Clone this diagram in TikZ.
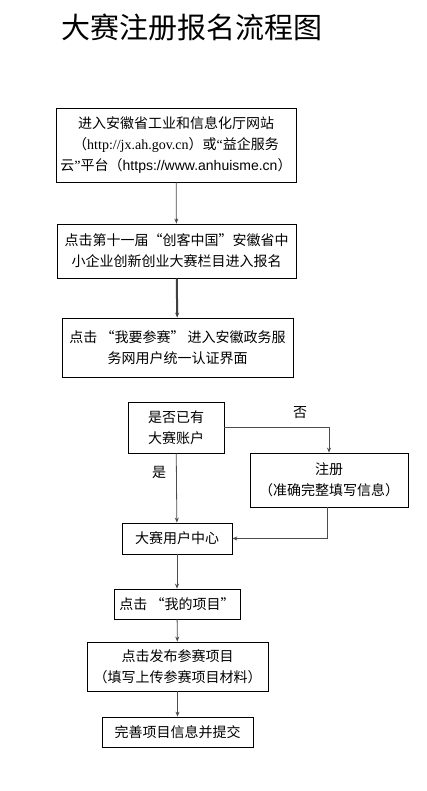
\documentclass[tikz,border=0pt]{standalone}
\usepackage{fontspec}
\setmainfont{Noto Sans CJK SC}
\newfontfamily\urlserif{Liberation Serif}
\newfontfamily\urlsans{Liberation Sans}
\usetikzlibrary{arrows.meta}

\tikzset{
  stepbox/.style={draw, line width=0.8pt, align=center, inner sep=0pt, font=\fontsize{14}{21}\selectfont},
  flow/.style={draw=black!70, line width=0.8pt, -{Stealth[length=5pt,width=4pt]}},
  tag/.style={font=\fontsize{14}{16}\selectfont}
}

\begin{document}
\begin{tikzpicture}[x=1pt,y=-1pt]
	\useasboundingbox (0,0) rectangle (427,791);
	
	% Title
	\node[font=\fontsize{29}{31}\selectfont, anchor=west] (title) at (58,27) {大赛注册报名流程图};
	
	% Step 1: website
	\node[stepbox, minimum width=240pt, minimum height=74pt] (s1) at (176,145)
		{进入安徽省工业和信息化厅网站\\（{\urlserif http://jx.ah.gov.cn}）或{\urlserif “}益企服务\\云{\urlserif ”}平台（{\urlsans https://www.anhuisme.cn}）};
	
	% Step 2: column
	\node[stepbox, minimum width=239pt, minimum height=54pt] (s2) at (176.5,251)
		{点击第十一届“创客中国”安徽省中\\小企业创新创业大赛栏目进入报名};
	
	% Step 3: login
	\node[stepbox, minimum width=231pt, minimum height=59pt] (s3) at (177.5,347.5)
		{点击 “我要参赛” 进入安徽政务服\\务网用户统一认证界面};
	
	% Decision: account
	\node[stepbox, minimum width=96pt, minimum height=51pt] (ask) at (176,427.5)
		{是否已有\\大赛账户};
	
	% Register
	\node[stepbox, minimum width=158pt, minimum height=54pt] (reg) at (329,480)
		{注册\\（准确完整填写信息）};
	
	% User centre
	\node[stepbox, minimum width=110pt, minimum height=31pt] (centre) at (177,538.5)
		{大赛用户中心};
	
	% My projects
	\node[stepbox, minimum width=126pt, minimum height=30pt] (mine) at (177,604)
		{点击 “我的项目”};
	
	% Publish
	\node[stepbox, minimum width=181pt, minimum height=49pt] (pub) at (177.5,666.5)
		{点击发布参赛项目\\（填写上传参赛项目材料）};
	
	% Submit
	\node[stepbox, minimum width=151pt, minimum height=30pt] (done) at (177.5,732)
		{完善项目信息并提交};
	
	% Connectors
	\draw[flow] (s1) -- (s2);
	\draw[flow, line width=2pt, draw=black!75] (s2) -- (s3);
	\draw[flow] (ask.east) -| (reg.north);
	\draw[flow] (ask) -- (centre);
	\draw[flow] (reg.south -| 327,0) |- (centre.east);
	\draw[flow] (centre) -- (mine);
	\draw[flow] (mine) -- (pub);
	\draw[flow] (pub) -- (done);
	
	% Branch labels
	\node[tag] (no) at (300,413) {否};
	\node[tag] (yes) at (159,472) {是};
	
\end{tikzpicture}
\end{document}
